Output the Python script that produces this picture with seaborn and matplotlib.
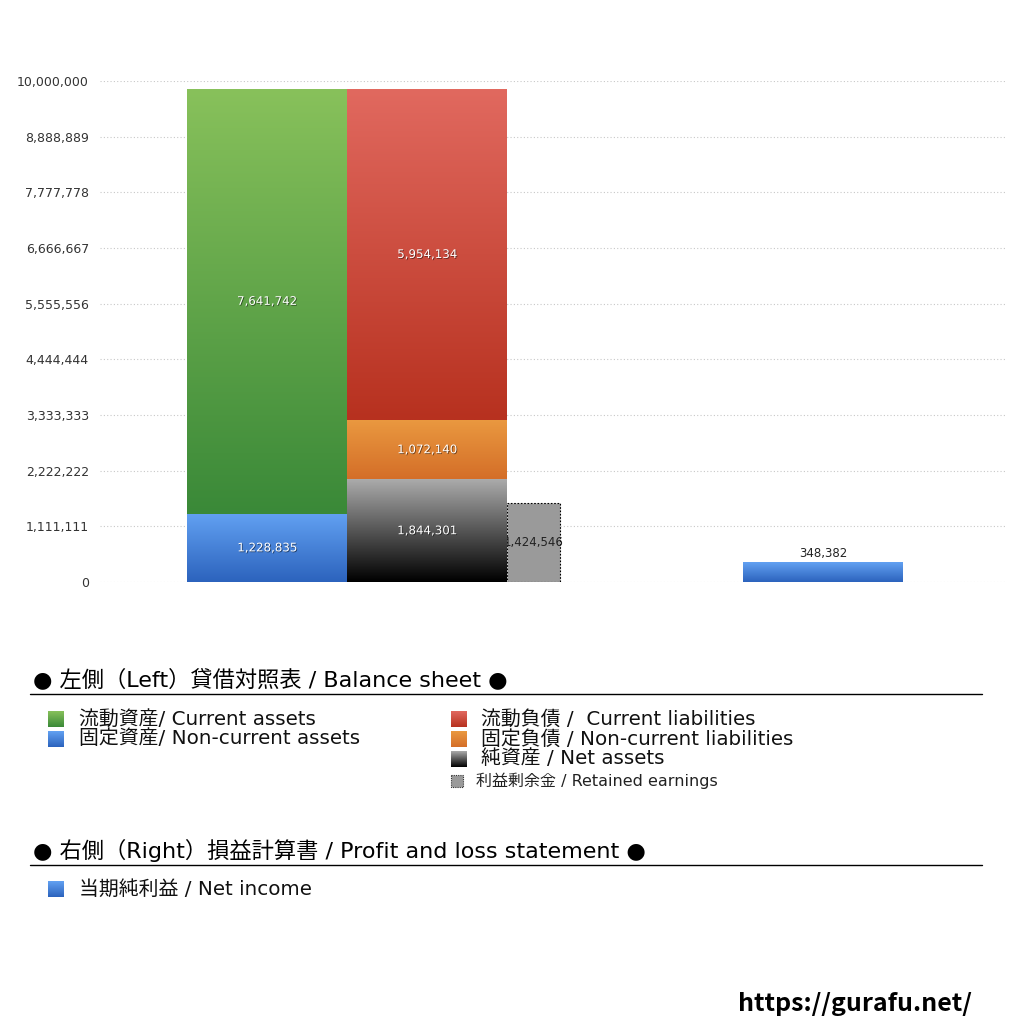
import numpy as np
import matplotlib
matplotlib.use("Agg")
import matplotlib.pyplot as plt
import matplotlib.patheffects as pe
from matplotlib.colors import LinearSegmentedColormap
from matplotlib.patches import Rectangle
import seaborn as sns

# ─── DATA ─────────────────────────────────────────────────────────────────────
ASSET_LABELS = ["流動資産/ Current assets", "固定資産/ Non-current assets"]
ASSET_VALUES = [7641742, 1228835]

LIAB_LABELS = ["流動負債 /  Current liabilities", "固定負債 / Non-current liabilities",
               "純資産 / Net assets"]
LIAB_VALUES = [5954134, 1072140, 1844301]

RETAINED_LABEL = "利益剰余金 / Retained earnings"
RETAINED_VALUE = 1424546

PL_LABEL = "当期純利益 / Net income"
NET_INCOME = 348382

TICK_LABELS = ["0", "1,111,111", "2,222,222", "3,333,333", "4,444,444",
               "5,555,556", "6,666,667", "7,777,778", "8,888,889", "10,000,000"]

# ─── STYLE ────────────────────────────────────────────────────────────────────
sns.set_theme(style="white")
plt.rcParams["font.family"] = ["DejaVu Sans", "Noto Sans CJK JP"]

# gradient (top, bottom)
GREEN  = ("#88c15b", "#3a8938")
BLUE   = ("#62a1f2", "#2c63bd")
RED    = ("#e1695f", "#b7311f")
ORANGE = ("#ea9940", "#d46e28")
BLACK  = ("#ababab", "#000000")
GREY   = "#9a9a9a"

ASSET_COLORS = [GREEN, BLUE]
LIAB_COLORS = [RED, ORANGE, BLACK]

Y_TOP = 9_014_500          # axis scale used by the original chart
X_MAX = 905 / 160
W = 1.0
POS_ASSETS, POS_LIAB, POS_PL = 1.044, 2.044, 4.519
RET_LEFT, RET_W = 2.544, 0.331


def grad_fill(ax, x0, x1, y0, y1, colors, z=2):
    cmap = LinearSegmentedColormap.from_list("g", [colors[1], colors[0]])
    ax.imshow(np.linspace(1, 0, 256)[:, None], cmap=cmap, aspect="auto",
              extent=[x0, x1, y0, y1], zorder=z, interpolation="bilinear")


white_lbl = dict(ha="center", va="center", fontsize=8.5, color="white",
                 path_effects=[pe.withSimplePatchShadow(offset=(0.6, -0.6),
                                                        shadow_rgbFace="black", alpha=0.5)])

fig = plt.figure(figsize=(10.24, 10.24), dpi=100)
ax = fig.add_axes([100 / 1024, 1 - 582 / 1024, 905 / 1024, 501 / 1024])


def stacked(ax, pos, values, colors, order_bottom_first, z):
    bottom = 0
    for i in order_bottom_first:
        bars = ax.bar(pos, values[i], width=W, bottom=bottom, color="none",
                      edgecolor="none", zorder=z)
        p = bars.patches[0]
        grad_fill(ax, p.get_x(), p.get_x() + p.get_width(), bottom,
                  bottom + values[i], colors[i], z=z)
        ax.text(pos, bottom + values[i] / 2, f"{values[i]:,}", zorder=z + 1, **white_lbl)
        bottom += values[i]


# left: balance sheet
stacked(ax, POS_ASSETS, ASSET_VALUES, ASSET_COLORS, [1, 0], 3)
ax.bar(RET_LEFT, RETAINED_VALUE, width=RET_W, align="edge", color=GREY,
       edgecolor="black", linestyle=(0, (1.5, 1.5)), linewidth=0.8, zorder=2)
ax.text(RET_LEFT + RET_W / 2, RETAINED_VALUE / 2, f"{RETAINED_VALUE:,}", ha="center",
        va="center", fontsize=8.5, color="#222222", zorder=2.5)
stacked(ax, POS_LIAB, LIAB_VALUES, LIAB_COLORS, [2, 1, 0], 3)

# right: P/L
bars = ax.bar(POS_PL, NET_INCOME, width=W, color="none", edgecolor="none", zorder=3)
p = bars.patches[0]
grad_fill(ax, p.get_x(), p.get_x() + p.get_width(), 0, NET_INCOME, BLUE, z=3)
ax.text(POS_PL, NET_INCOME + 50000, f"{NET_INCOME:,}", ha="center", va="bottom",
        fontsize=8.5, color="#222222")

ticks = np.linspace(0, Y_TOP, len(TICK_LABELS))
ax.set_yticks(ticks)
ax.set_yticklabels(TICK_LABELS, fontsize=9, color="#333333")
ax.tick_params(axis="y", length=0, pad=8)
ax.set_xticks([])
ax.set_xlim(0, X_MAX)
ax.set_ylim(0, Y_TOP)
ax.yaxis.grid(True, color="#c8c8c8", linestyle=(0, (1, 2)), linewidth=0.8, zorder=0.5)
ax.set_axisbelow(True)
ax.set_facecolor("white")
sns.despine(ax=ax, left=True, bottom=True)

# ─── LEGEND AREA (pixel coords) ───────────────────────────────────────────────
lg = fig.add_axes([0, 0, 1, 1])
lg.set_xlim(0, 1024)
lg.set_ylim(1024, 0)
lg.axis("off")
lg.patch.set_alpha(0)


def swatch(x, y, colors, size=16):
    grad_fill(lg, x, x + size, y + size / 2, y - size / 2, colors)


head_kw = dict(fontsize=16, color="black", va="center", ha="left")
item_kw = dict(fontsize=14.3, color="#111111", va="center", ha="left")

lg.text(33, 679, "● 左側（Left）貸借対照表 / Balance sheet ●", **head_kw)
lg.plot([30, 982], [694, 694], color="black", linewidth=1)

for k, lbl in enumerate(ASSET_LABELS):
    y = 719 + 20 * k
    swatch(48, y, ASSET_COLORS[k])
    lg.text(79, y, lbl, **item_kw)

for k, lbl in enumerate(LIAB_LABELS):
    y = 719 + 20 * k
    swatch(451, y, LIAB_COLORS[k])
    lg.text(481, y, lbl, **item_kw)

lg.add_patch(Rectangle((451, 775), 12, 12, facecolor=GREY, edgecolor="#333333",
                       linestyle=(0, (1, 1)), linewidth=0.8))
lg.text(476, 781, RETAINED_LABEL, fontsize=11.5, color="#222222", va="center", ha="left")

lg.text(33, 850, "● 右側（Right）損益計算書 / Profit and loss statement ●", **head_kw)
lg.plot([30, 982], [865, 865], color="black", linewidth=1)
swatch(48, 889, BLUE)
lg.text(79, 889, PL_LABEL, **item_kw)

lg.text(972, 1004, "https://gurafu.net/", fontsize=18, fontweight="bold",
        family=["Noto Sans CJK JP"], color="black", va="center", ha="right")

fig.savefig("out.png", dpi=100, facecolor="white")
